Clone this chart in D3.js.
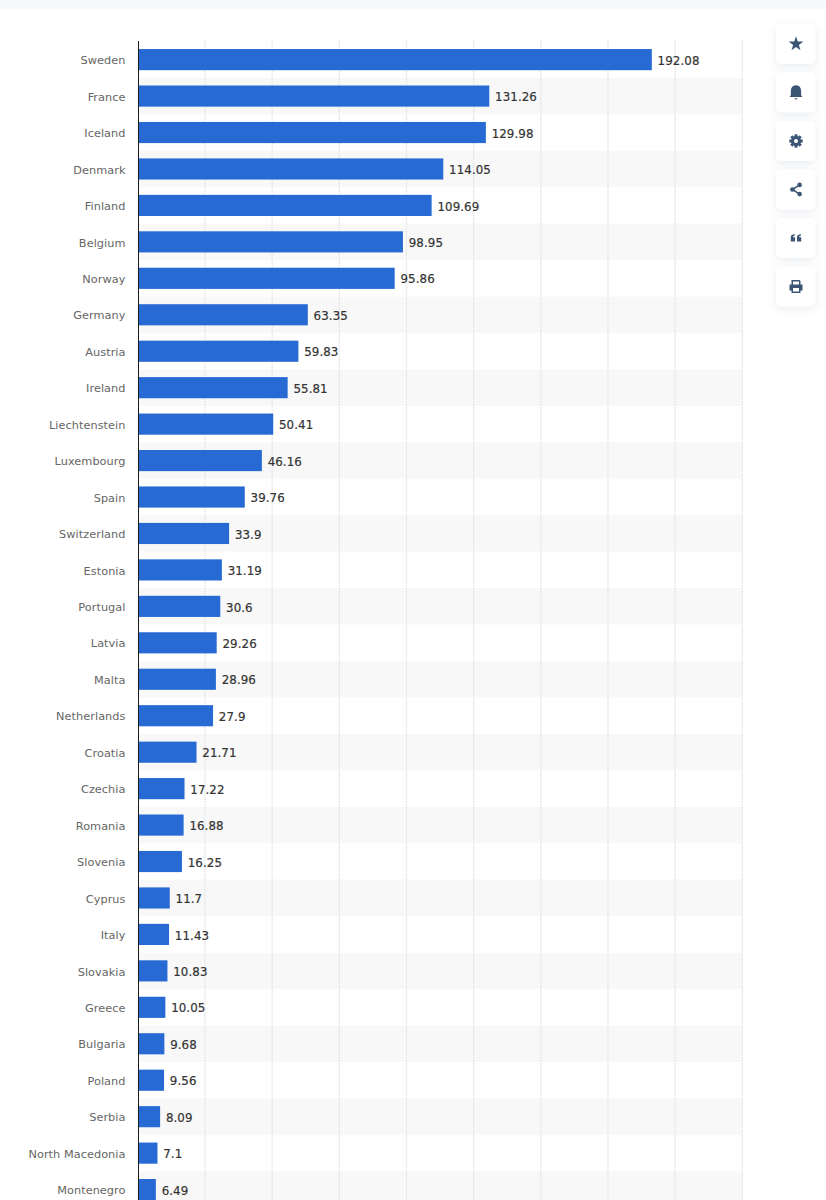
<!DOCTYPE html>
<html>
<head>
<meta charset="utf-8">
<script src="https://cdnjs.cloudflare.com/ajax/libs/d3/7.8.5/d3.min.js"></script>
<style>
    html, body { margin: 0; padding: 0; background: #fff; overflow: hidden; }
    svg { display: block; }
    text { font-family: "DejaVu Sans", sans-serif; }
</style>
</head>
<body>
<div id="chart"></div>
<script>
const countries = ['Sweden', 'France', 'Iceland', 'Denmark', 'Finland', 'Belgium', 'Norway', 'Germany',
    'Austria', 'Ireland', 'Liechtenstein', 'Luxembourg', 'Spain', 'Switzerland', 'Estonia', 'Portugal',
    'Latvia', 'Malta', 'Netherlands', 'Croatia', 'Czechia', 'Romania', 'Slovenia', 'Cyprus', 'Italy',
    'Slovakia', 'Greece', 'Bulgaria', 'Poland', 'Serbia', 'North Macedonia', 'Montenegro']
const values = [192.08, 131.26, 129.98, 114.05, 109.69, 98.95, 95.86, 63.35,
    59.83, 55.81, 50.41, 46.16, 39.76, 33.9, 31.19, 30.6,
    29.26, 28.96, 27.9, 21.71, 17.22, 16.88, 16.25, 11.7, 11.43,
    10.83, 10.05, 9.68, 9.56, 8.09, 7.1, 6.49]
const gridTicks = [25, 50, 75, 100, 125, 150, 175, 200, 225]
const buttons = ['star', 'bell', 'gear', 'share', 'quote', 'print']

const width = 826, height = 1200

const svg = d3.select('#chart')
    .append('svg')
    .attr('width', width)
    .attr('height', height)

const defs = svg.append('defs')
const shadow = defs.append('filter').attr('id', 'soft')
    .attr('x', '-40%').attr('y', '-40%').attr('width', '180%').attr('height', '180%')
shadow.append('feDropShadow')
    .attr('dx', 0).attr('dy', 2).attr('stdDeviation', 4)
    .attr('flood-color', '#8090a8').attr('flood-opacity', 0.18)

// page strip behind the white card
svg.append('rect').attr('width', width).attr('height', 9).attr('fill', '#f8f9fb')

const x = d3.scaleLinear().domain([0, 225]).range([138.5, 739.8])
// the screenshot's gridlines run a touch wider than the bars
const xGrid = d3.scaleLinear().domain([25, 225]).range([205, 742.3])
const y = d3.scaleBand()
    .domain(countries)
    .range([41.4, 1207.8])
    .paddingInner(0.42)
    .paddingOuter(0.21)

// alternating rows
const step = y.step()
svg.append('g').selectAll('rect')
    .data(countries.filter((d, i) => i % 2 === 1))
    .enter()
    .append('rect')
    .attr('x', x(0))
    .attr('y', d => y(d) - (step - y.bandwidth()) / 2)
    .attr('width', xGrid(225) - x(0))
    .attr('height', step)
    .attr('fill', '#f8f8f8')

// gridlines
svg.append('g').selectAll('line')
    .data(gridTicks)
    .enter()
    .append('line')
    .attr('x1', d => xGrid(d))
    .attr('x2', d => xGrid(d))
    .attr('y1', 41)
    .attr('y2', height)
    .attr('stroke', '#dddddd')
    .attr('stroke-width', 1.3)
    .attr('stroke-dasharray', '1 1')

// bars
svg.append('g').selectAll('rect')
    .data(countries)
    .enter()
    .append('rect')
    .attr('x', x(0))
    .attr('y', d => y(d))
    .attr('width', (d, i) => x(values[i]) - x(0))
    .attr('height', y.bandwidth())
    .attr('fill', '#286ad4')

// value labels
svg.append('g').selectAll('text')
    .data(countries)
    .enter()
    .append('text')
    .attr('x', (d, i) => x(values[i]) + 5.8)
    .attr('y', d => y(d) + y.bandwidth() / 2 + 1)
    .attr('dy', '0.35em')
    .attr('font-size', 11.8)
    .attr('stroke', '#333333')
    .attr('stroke-width', 0.2)
    .attr('letter-spacing', 0.1)
    .attr('fill', '#333333')
    .text((d, i) => values[i])

// category axis
const axis = svg.append('g')
    .attr('transform', 'translate(' + x(0) + ',0)')
    .call(d3.axisLeft(y).tickSize(0).tickPadding(13))
axis.select('.domain').remove()
axis.selectAll('text')
    .attr('y', 1)
    .attr('font-size', 11.3)
    .attr('letter-spacing', 0.05)
    .attr('fill', '#666666')
    .style('font-family', '"DejaVu Sans", sans-serif')
svg.append('line')
    .attr('x1', x(0)).attr('x2', x(0))
    .attr('y1', 41).attr('y2', height)
    .attr('stroke', '#1a1a1a')
    .attr('stroke-width', 1)

// side buttons
const iconColor = '#3d5575'
const buttonY = d3.scalePoint().domain(buttons).range([24, 266.5])
const btn = svg.append('g').selectAll('g')
    .data(buttons)
    .enter()
    .append('g')
    .attr('transform', d => 'translate(776,' + buttonY(d) + ')')
btn.append('rect')
    .attr('width', 39.5).attr('height', 40).attr('rx', 5)
    .attr('fill', '#fff')
    .attr('filter', 'url(#soft)')

const icons = btn.append('g').attr('transform', 'translate(20,20)')
    .attr('fill', iconColor)
icons.filter(d => d === 'star').append('path')
    .attr('d', d3.symbol(d3.symbolStar, 68))
icons.filter(d => d === 'bell').append('path')
    .attr('transform', 'scale(1.12)')
    .attr('d', 'M0-6.5C-3.3-6.5-4.6-3.8-4.6-1V2.2L-5.6 4H5.6L4.6 2.2V-1C4.6-3.8 3.3-6.5 0-6.5ZM-1.6 5.2H1.6L0 6.4Z')
const gear = icons.filter(d => d === 'gear')
gear.selectAll('rect')
    .data([0, 45, 90, 135])
    .enter().append('rect')
    .attr('x', -1.5).attr('y', -6.7).attr('width', 3).attr('height', 13.4)
    .attr('transform', d => 'rotate(' + d + ')')
gear.append('circle').attr('r', 3.9).attr('fill', 'none')
    .attr('stroke', iconColor).attr('stroke-width', 2.4)
gear.append('circle').attr('r', 2).attr('fill', '#fff')
const share = icons.filter(d => d === 'share')
share.append('path')
    .attr('d', 'M3.6-4.6L-3.6 0L3.6 4.6')
    .attr('fill', 'none').attr('stroke', iconColor).attr('stroke-width', 1.5)
share.selectAll('circle')
    .data([[3.6, -4.6], [-3.6, 0], [3.6, 4.6]])
    .enter().append('circle')
    .attr('cx', d => d[0]).attr('cy', d => d[1]).attr('r', 2.3)
icons.filter(d => d === 'quote').append('path')
    .attr('d', 'M-5.2 3.6V-0.6C-5.2-2.6-3.8-3.8-1.2-3.8V-2.4C-2.4-2.3-3-1.6-3-0.8H-1V3.6ZM1 3.6V-0.6C1-2.6 2.4-3.8 5-3.8V-2.4C3.8-2.3 3.2-1.6 3.2-0.8H5.2V3.6Z')
icons.filter(d => d === 'print').append('path')
    .attr('fill-rule', 'evenodd')
    .attr('d', 'M-4.5-6.5H3.5L4.5-5.5V-2H6.5V4H4.5V6.5H-4.5V4H-6.5V-2H-4.5ZM-3-5V-2H3V-5ZM-3 1.5V5H3V1.5Z')
</script>
</body>
</html>
